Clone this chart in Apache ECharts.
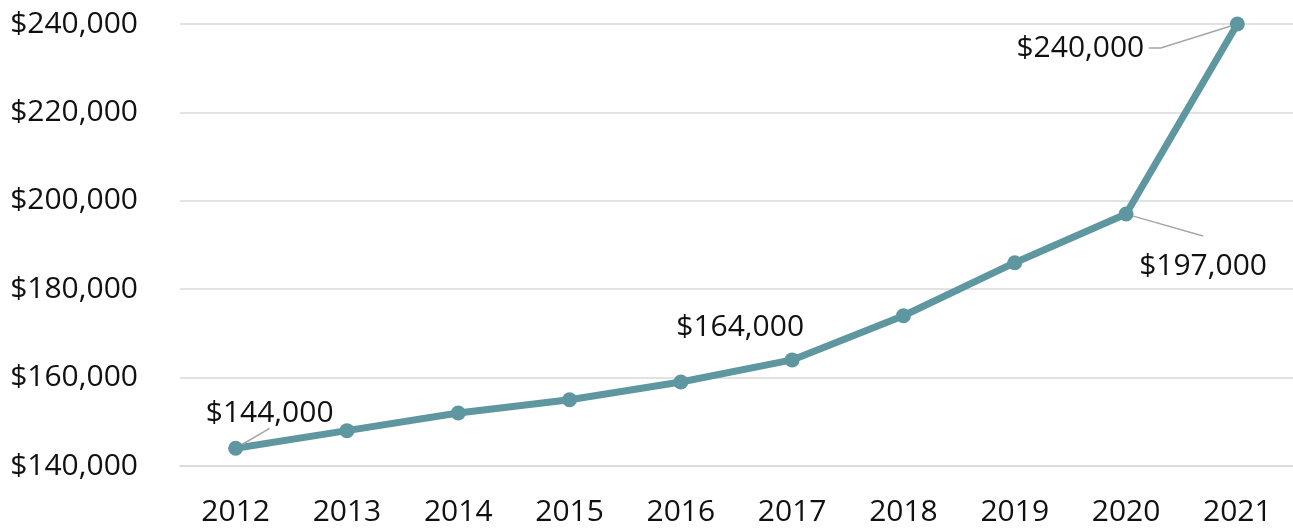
<!DOCTYPE html>
<html>
<head>
<meta charset="utf-8">
<script src="https://cdn.jsdelivr.net/npm/echarts@6/dist/echarts.min.js"></script>
<style>
    html, body { margin: 0; padding: 0; background: #fff; }
    #myChart { width: 1293px; height: 529px; }
</style>
</head>
<body>
<div id="myChart"></div>
<script>
    // chart data
    var years = ['2012', '2013', '2014', '2015', '2016', '2017', '2018', '2019', '2020', '2021'];
    var prices = [144000, 148000, 152000, 155000, 159000, 164000, 174000, 186000, 197000, 240000];
    var labelledYears = ['2012', '2017', '2020', '2021'];

    // per-label look: offset of the label box from its point, extra rich spacers
    // (the spacers decide which side of the box the leader line goes to)
    var labelStyles = {
        '2012': { off: [34, -35], pre: '', post: '', line: true, length2: 0 },
        '2017': { off: [-52, -32], pre: '', post: '', line: false },
        '2020': { off: [77, 128.5], pre: '{gapTop|}\n', post: '\n{gapBottom|}', line: true, length2: 0 },
        '2021': { off: [-152.5, 24], pre: '', post: '{sp|}', line: true, length2: 12 }
    };

    function money(v) {
        return '$' + v.toLocaleString('en-US');
    }

    var fontFamily = '"Open Sans", "Noto Sans", sans-serif';
    var lineColor = '#5f97a0';

    var seriesData = prices.map(function (v, i) {
        var s = labelStyles[years[i]];
        if (labelledYears.indexOf(years[i]) < 0 || !s) {
            return { value: v };
        }
        return {
            value: v,
            label: { show: true },
            labelLine: {
                show: s.line,
                length2: s.length2 || 0,
                lineStyle: { color: '#a6a6a6', width: 1.5 }
            }
        };
    });

    var myChart = echarts.init(document.getElementById('myChart'));

    myChart.setOption({
        animation: false,
        grid: {
            left: 180,
            right: 0,
            top: 24,
            bottom: 63
        },
        xAxis: {
            type: 'category',
            data: years,
            boundaryGap: true,
            axisLine: { show: true, lineStyle: { color: '#d9d9d9', width: 1.5 } },
            axisTick: { show: false },
            axisLabel: {
                color: '#111',
                fontSize: 30,
                fontFamily: fontFamily,
                margin: 31
            }
        },
        yAxis: {
            type: 'value',
            min: 140000,
            max: 240000,
            interval: 20000,
            axisLine: { show: false },
            axisTick: { show: false },
            splitLine: { lineStyle: { color: '#d9d9d9', width: 1.5 } },
            axisLabel: {
                color: '#111',
                fontSize: 30,
                fontFamily: fontFamily,
                margin: 42,
                formatter: money
            }
        },
        series: [{
            type: 'line',
            data: seriesData,
            symbol: 'circle',
            symbolSize: 15,
            lineStyle: { color: lineColor, width: 7 },
            itemStyle: { color: lineColor },
            label: {
                show: false,
                formatter: function (p) {
                    var s = labelStyles[years[p.dataIndex]];
                    return s.pre + '{v|' + money(p.value) + '}' + s.post;
                },
                rich: {
                    v: { color: '#111', fontSize: 30, fontFamily: fontFamily, lineHeight: 41 },
                    gapTop: { height: 8 },
                    gapBottom: { height: 160 },
                    sp: { width: 9 }
                }
            },
            labelLine: { show: false },
            labelLayout: function (params) {
                var s = labelStyles[years[params.dataIndex]];
                if (!s) {
                    return {};
                }
                var r = params.rect;
                return {
                    x: r.x + r.width / 2 + s.off[0],
                    y: r.y + r.height / 2 + s.off[1],
                    align: 'center',
                    verticalAlign: 'middle'
                };
            }
        }]
    });
</script>
</body>
</html>
